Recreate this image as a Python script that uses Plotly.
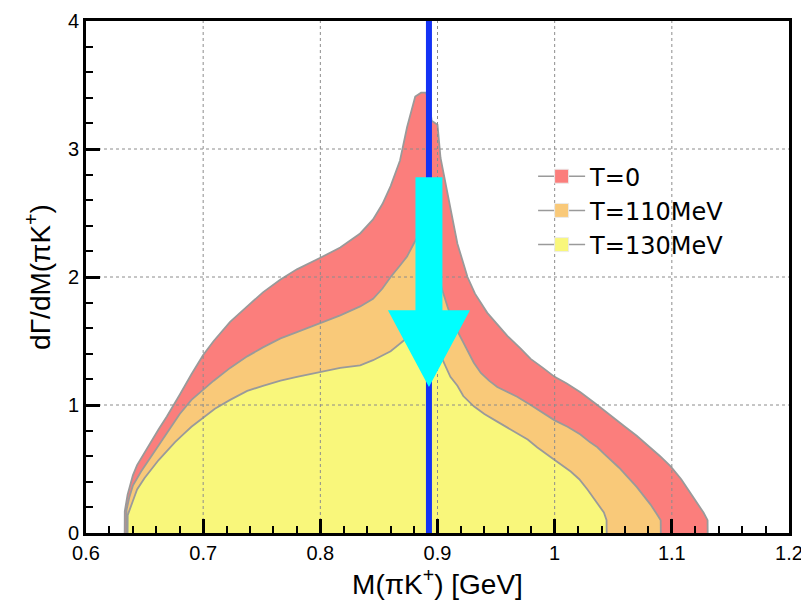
import plotly.graph_objects as go

# dGamma/dM(pi K+) spectra at three temperatures
m_T0 = [0.6330, 0.6331, 0.6355, 0.640, 0.6436, 0.650, 0.655, 0.662, 0.669, 0.675,
        0.680, 0.690, 0.700, 0.709, 0.723, 0.7376, 0.751, 0.766, 0.780, 0.800,
        0.817, 0.834, 0.845, 0.853, 0.860, 0.868, 0.874, 0.881, 0.886, 0.890,
        0.893, 0.895, 0.900, 0.9026, 0.9085, 0.917, 0.9256, 0.932, 0.9425, 0.954,
        0.9596, 0.971, 0.9795, 0.990, 1.000, 1.010, 1.022, 1.035, 1.048, 1.060,
        1.070, 1.079, 1.090, 1.099, 1.108, 1.116, 1.122, 1.127, 1.1305, 1.1306]
g_T0 = [0.00, 0.17, 0.30, 0.45, 0.53, 0.63, 0.71, 0.81, 0.91, 1.00,
        1.08, 1.24, 1.39, 1.50, 1.65, 1.77, 1.88, 1.98, 2.06, 2.15,
        2.23, 2.34, 2.45, 2.57, 2.71, 2.91, 3.17, 3.41, 3.44, 3.44,
        3.38, 3.22, 3.19, 2.93, 2.66, 2.26, 2.00, 1.87, 1.72, 1.60,
        1.54, 1.44, 1.36, 1.29, 1.22, 1.17, 1.10, 1.01, 0.92, 0.83,
        0.76, 0.69, 0.60, 0.52, 0.42, 0.31, 0.23, 0.16, 0.10, 0.00]

m_T110 = [0.6345, 0.6346, 0.637, 0.640, 0.647, 0.655, 0.662, 0.669, 0.680, 0.690,
          0.700, 0.709, 0.723, 0.7376, 0.751, 0.766, 0.780, 0.800, 0.817, 0.834,
          0.845, 0.853, 0.860, 0.868, 0.874, 0.8797, 0.886, 0.890, 0.896, 0.900,
          0.904, 0.9085, 0.913, 0.918, 0.9254, 0.931, 0.937, 0.944, 0.951, 0.960,
          0.968, 0.9795, 0.990, 1.000, 1.011, 1.022, 1.030, 1.0365, 1.042, 1.048,
          1.055, 1.062, 1.070, 1.076, 1.082, 1.087, 1.0905, 1.0906]
g_T110 = [0.00, 0.18, 0.28, 0.37, 0.48, 0.59, 0.69, 0.78, 0.93, 1.04,
          1.12, 1.19, 1.29, 1.38, 1.45, 1.52, 1.57, 1.64, 1.70, 1.77,
          1.83, 1.91, 2.00, 2.09, 2.16, 2.26, 2.36, 2.38, 2.20, 2.05,
          1.90, 1.77, 1.65, 1.56, 1.43, 1.33, 1.25, 1.19, 1.14, 1.10,
          1.065, 1.00, 0.94, 0.88, 0.83, 0.77, 0.71, 0.67, 0.62, 0.57,
          0.51, 0.44, 0.36, 0.29, 0.22, 0.15, 0.10, 0.00]

m_T130 = [0.6355, 0.6356, 0.640, 0.6436, 0.650, 0.655, 0.662, 0.669, 0.676, 0.683,
          0.690, 0.700, 0.710, 0.723, 0.7376, 0.751, 0.766, 0.780, 0.800, 0.817,
          0.834, 0.845, 0.860, 0.871, 0.880, 0.887, 0.892, 0.898, 0.905, 0.911,
          0.917, 0.922, 0.931, 0.940, 0.951, 0.960, 0.968, 0.977, 0.985, 0.993,
          1.000, 1.0137, 1.021, 1.028, 1.0365, 1.042, 1.0443, 1.0444]
g_T130 = [0.00, 0.14, 0.25, 0.34, 0.43, 0.49, 0.57, 0.64, 0.71, 0.77,
          0.83, 0.90, 0.97, 1.04, 1.11, 1.15, 1.19, 1.22, 1.26, 1.29,
          1.31, 1.35, 1.42, 1.50, 1.57, 1.62, 1.60, 1.48, 1.35, 1.22,
          1.15, 1.07, 0.99, 0.93, 0.87, 0.82, 0.78, 0.73, 0.67, 0.62,
          0.57, 0.48, 0.42, 0.34, 0.23, 0.16, 0.10, 0.00]

series_names = ["T=0", "T=110MeV", "T=130MeV"]
series_colors = ["#FB7E7C", "#F9C979", "#F9F77B"]
outline_color = "#9A9A9A"

# vacuum K*(892) mass and the downward arrow drawn on it
K_STAR_MASS = 0.8927
arrow_top, arrow_neck, arrow_tip = 2.78, 1.74, 1.14
shaft_half, head_half = 0.0115, 0.035

x_ticks = [0.6, 0.7, 0.8, 0.9, 1.0, 1.1, 1.2]
x_tick_text = ["0.6", "0.7", "0.8", "0.9", "1", "1.1", "1.2"]
y_ticks = [0, 1, 2, 3, 4]
x_range = [0.6, 1.2]
y_range = [0, 4]

FONT = "Liberation Sans, Arial, sans-serif"
LEGEND_FONT = "DejaVu Sans, sans-serif"

fig = go.Figure()

for m, g, color in zip([m_T0, m_T110, m_T130], [g_T0, g_T110, g_T130], series_colors):
    fig.add_trace(go.Scatter(
        x=m, y=g, mode="lines", fill="tozeroy", fillcolor=color,
        line=dict(color=outline_color, width=1.8), showlegend=False, hoverinfo="skip"))

# dotted grid drawn over the filled spectra
gx, gy = [], []
for v in x_ticks[1:-1]:
    gx += [v, v, None]
    gy += [y_range[0], y_range[1], None]
for v in y_ticks[1:-1]:
    gx += [x_range[0], x_range[1], None]
    gy += [v, v, None]
fig.add_trace(go.Scatter(x=gx, y=gy, mode="lines",
                         line=dict(color="#8C8C8C", width=1, dash="dot"),
                         showlegend=False, hoverinfo="skip"))

fig.add_trace(go.Scatter(x=[K_STAR_MASS, K_STAR_MASS], y=y_range, mode="lines",
                         line=dict(color="#1432F5", width=6),
                         showlegend=False, hoverinfo="skip"))

ax = [K_STAR_MASS - shaft_half, K_STAR_MASS + shaft_half, K_STAR_MASS + shaft_half,
      K_STAR_MASS + head_half, K_STAR_MASS, K_STAR_MASS - head_half,
      K_STAR_MASS - shaft_half, K_STAR_MASS - shaft_half]
ay = [arrow_top, arrow_top, arrow_neck, arrow_neck, arrow_tip, arrow_neck,
      arrow_neck, arrow_top]
fig.add_trace(go.Scatter(x=ax, y=ay, mode="lines", fill="toself", fillcolor="#00FFFF",
                         line=dict(color="#00FFFF", width=0),
                         showlegend=False, hoverinfo="skip"))

# legend entries: grey line with a coloured square
for name, color in zip(series_names, series_colors):
    fig.add_trace(go.Scatter(
        x=[None], y=[None], mode="lines+markers", name=name,
        line=dict(color=outline_color, width=1.5),
        marker=dict(symbol="square", size=14, color=color,
                    line=dict(color="#EBEBEB", width=1))))

axis_common = dict(
    showline=True, linecolor="black", linewidth=3, mirror=True,
    ticks="inside", ticklen=14, tickwidth=2.5, tickcolor="black",
    showgrid=False, zeroline=False, automargin=False, ticklabeloverflow="allow",
    tickfont=dict(family=FONT, size=20, color="black"),
)

fig.update_xaxes(
    range=x_range, tickvals=x_ticks, ticktext=x_tick_text,
    minor=dict(dtick=0.02, ticks="inside", ticklen=7, tickwidth=1.5, tickcolor="black"),
    title=dict(text="M(πK<sup>+</sup>) [GeV]", font=dict(family=FONT, size=28, color="black"),
               standoff=8),
    **axis_common)
fig.update_yaxes(
    range=y_range, tickvals=y_ticks,
    minor=dict(dtick=0.2, ticks="inside", ticklen=7, tickwidth=1.5, tickcolor="black"),
    title=dict(text="dΓ/dM(πK<sup>+</sup>)", font=dict(family=FONT, size=28, color="black"),
               standoff=10),
    **axis_common)

fig.update_layout(
    width=801, height=601,
    margin=dict(l=86, r=12, t=21, b=68),
    paper_bgcolor="white", plot_bgcolor="white",
    legend=dict(x=0.636, y=0.74, xanchor="left", yanchor="top",
                bgcolor="rgba(0,0,0,0)", font=dict(family=LEGEND_FONT, size=24, color="black"),
                tracegroupgap=0, itemwidth=47),
)

fig.write_html("out.html")
